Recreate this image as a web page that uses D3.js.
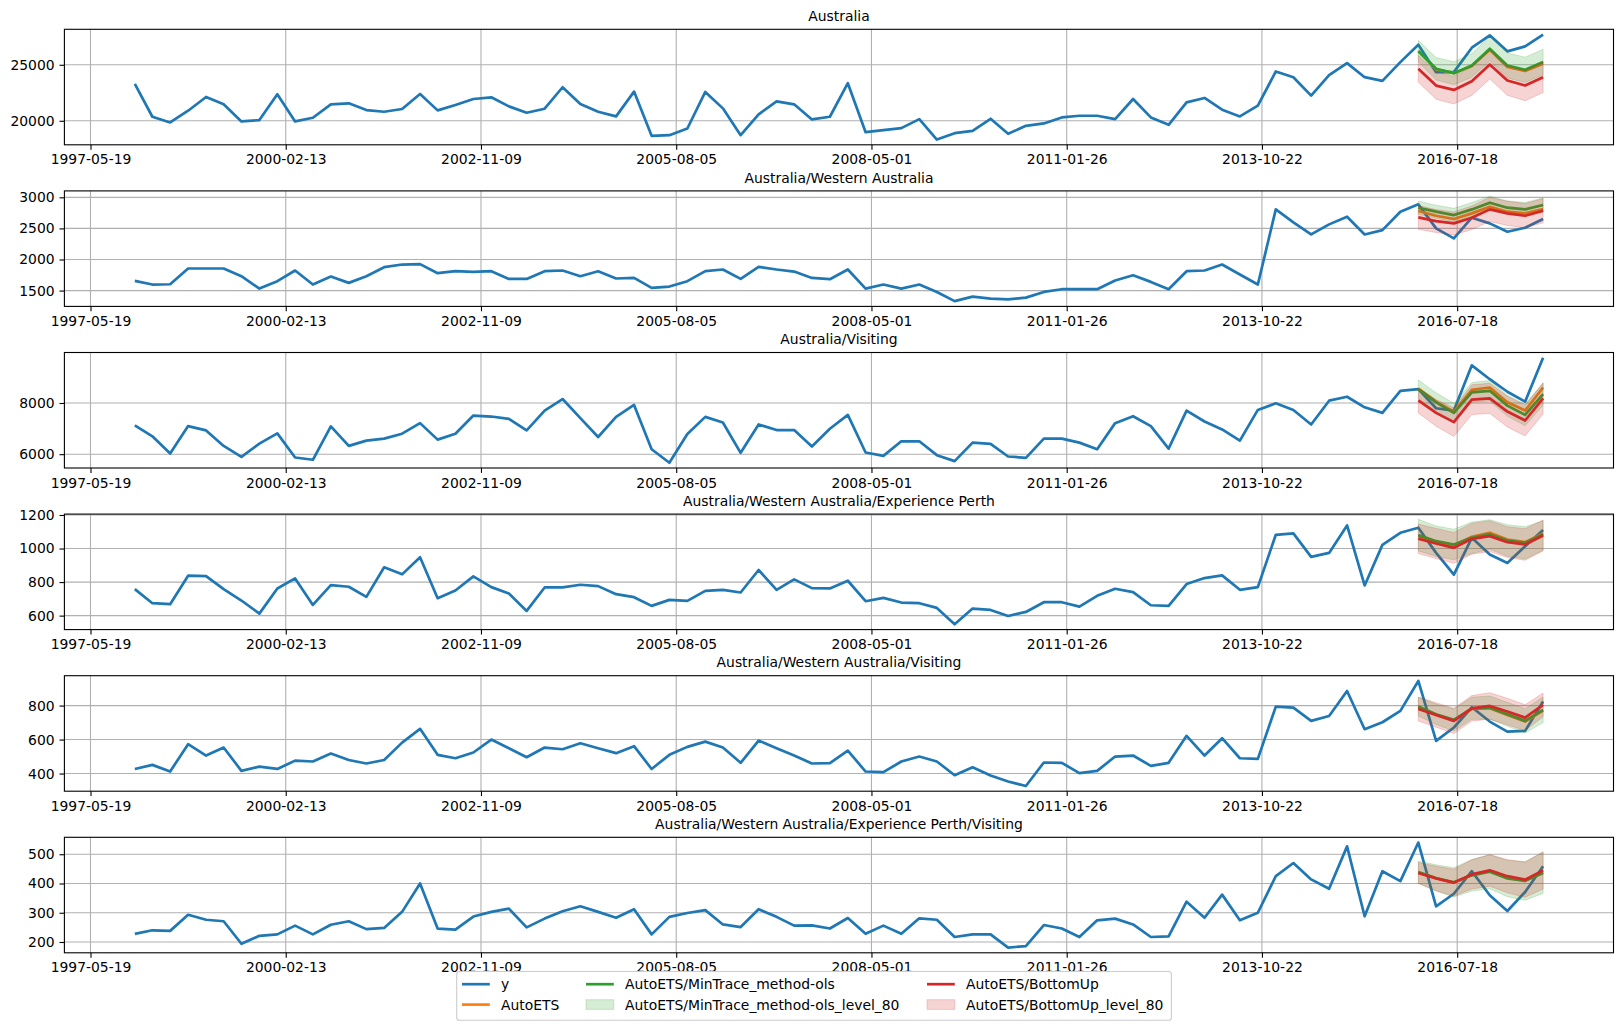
<!DOCTYPE html>
<html>
<head>
<meta charset="utf-8">
<script src="https://cdn.jsdelivr.net/npm/d3@7/dist/d3.min.js"></script>
<style>
  html, body { margin: 0; padding: 0; background: #fff; }
  svg { display: block; font-family: "DejaVu Sans", sans-serif; }
</style>
</head>
<body>
<svg id="chart" width="1624" height="1028"></svg>
<script>
// ---------------- DATA ----------------
const titles = [
  "Australia",
  "Australia/Western Australia",
  "Australia/Visiting",
  "Australia/Western Australia/Experience Perth",
  "Australia/Western Australia/Visiting",
  "Australia/Western Australia/Experience Perth/Visiting"
];
const startDate = "1998-01-01";      // first quarter
const nQuarters = 80;                // 1998Q1 .. 2017Q4
const forecastStart = 72;            // index of first forecast quarter (2016Q1)
const xTickLabels = ["1997-05-19","2000-02-13","2002-11-09","2005-08-05","2008-05-01","2011-01-26","2013-10-22","2016-07-18"];
const yTickValues = [
  [20000, 25000],
  [1500, 2000, 2500, 3000],
  [6000, 8000],
  [600, 800, 1000, 1200],
  [400, 600, 800],
  [200, 300, 400, 500]
];

// observed y per panel
const yAustralia = [23293,20359,19850,20898,22126,21467,19940,20060,22365,19940,20269,21467,21557,20958,20808,21048,22395,20928,21407,21946,22096,21287,20719,21078,22994,21497,20808,20389,22605,18653,18713,19311,22575,21108,18713,20569,21737,21467,20120,
  20359,23353,18982,19162,19341,20150,18323,18892,19102,20180,18832,19551,19760,20299,20449,20449,20150,21946,20299,19641,21647,22036,20988,20389,21347,24401,23892,22246,24072,25150,23892,23563,25240,26796,24341,24341,26527,27635,26198,26647,27700];
const yWA = [1656,1597,1602,1855,1855,1855,1731,1532,1651,1823,1597,1726,1624,1731,1876,1919,1925,1780,1812,1801,1812,1688,1688,1812,1823,1731,1812,1694,1704,1543,1565,1651,1812,1839,1688,1882,1839,1806,1704,
  1683,1839,1532,1597,1532,1597,1478,1330,1403,1371,1360,1387,1478,1522,1522,1522,1661,1747,1640,1522,1812,1823,1919,1758,1597,2806,2597,2403,2565,2688,2403,2473,2769,2887,2500,2339,2672,2581,2446,2511,2651];
const yVisiting = [7123,6697,6026,7097,6929,6323,5897,6413,6813,5871,5781,7084,6323,6529,6606,6800,7213,6568,6800,7510,7471,7381,6929,7703,8155,7406,6671,7458,7923,6194,5665,6787,7458,7239,6052,7161,6942,6942,6297,
  6994,7535,6065,5935,6503,6503,5961,5729,6452,6400,5910,5858,6606,6606,6452,6194,7213,7484,7097,6219,7703,7277,6968,6529,7729,7987,7729,7161,8090,8245,7832,7613,8477,8542,7794,7703,9471,8929,8439,8052,9768];
const yPerth = [758,674,668,838,836,758,690,612,762,822,664,782,772,712,888,846,948,704,750,834,770,732,628,768,768,784,776,728,710,658,694,688,748,754,738,872,754,816,764,
  762,808,686,706,678,674,646,548,642,634,598,622,680,680,654,718,760,740,662,658,788,824,840,754,770,1082,1090,950,974,1138,780,1022,1094,1124,974,844,1064,964,914,1014,1110];
const yWAVisiting = [427,451,412,573,506,553,416,441,427,476,471,518,480,459,480,582,663,510,490,524,600,549,496,553,543,578,549,520,561,427,510,557,588,553,463,594,549,506,459,
  461,535,412,408,471,500,471,390,437,388,353,327,465,463,402,416,500,506,445,463,622,506,608,490,486,794,788,710,739,886,661,702,769,945,592,671,790,706,647,651,824];
const yPerthVisiting = [228,240,238,293,276,271,194,221,226,256,226,259,271,244,248,303,400,246,242,287,303,314,250,280,305,322,303,283,312,226,286,299,309,260,251,312,286,256,257,
  246,282,228,256,228,281,276,217,226,226,181,186,258,246,217,274,280,260,217,219,338,283,362,274,300,425,470,414,382,527,288,442,408,540,322,365,442,360,306,371,459];

// forecasts (8 quarters, 2016Q1..2017Q4) per panel
const autoETS = [
  [26200,24600,24250,24900,26350,24800,24450,25100],
  [2780,2704,2651,2742,2849,2769,2742,2812],
  [8568,8052,7665,8516,8606,8026,7703,8606],
  [1074,1042,1018,1070,1094,1054,1038,1090],
  [788,745,712,780,784,744,706,770],
  [437,418,403,429,442,420,411,439]
];
const minTrace = [
  [26228,24641,24251,24940,26437,24940,24551,25240],
  [2833,2769,2715,2806,2914,2833,2806,2876],
  [8542,8026,7613,8413,8477,7897,7535,8348],
  [1080,1044,1024,1064,1084,1048,1034,1084],
  [794,749,716,784,788,749,710,775],
  [439,419,404,428,440,417,409,436]
];
const minTraceLo80 = [
  [25268,23641,23221,23880,25347,23830,23421,24090],
  [2728,2664,2607,2696,2809,2723,2694,2761],
  [8182,7656,7233,8023,8077,7487,7115,7918],
  [986,953,933,970,996,954,938,990],
  [739,689,651,719,720,679,638,700],
  [401,374,354,374,382,355,343,366]
];
const minTraceHi80 = [
  [27188,25641,25281,26000,27527,26050,25681,26390],
  [2938,2874,2823,2916,3019,2943,2918,2991],
  [8902,8396,7993,8803,8877,8307,7955,8778],
  [1174,1135,1115,1158,1172,1142,1130,1166],
  [849,809,781,849,856,819,782,850],
  [477,464,454,482,498,479,475,506]
];
const bottomUp = [
  [24641,23144,22754,23533,25030,23593,23144,23892],
  [2677,2618,2581,2672,2806,2742,2704,2785],
  [8103,7613,7252,8129,8181,7665,7316,8181],
  [1058,1030,1004,1058,1074,1038,1024,1078],
  [780,745,710,784,798,765,729,804],
  [436,417,403,431,445,425,413,445]
];
const bottomUpLo80 = [
  [23441,21924,21504,22263,23730,22273,21794,22522],
  [2487,2433,2396,2482,2611,2547,2509,2590],
  [7613,7093,6692,7549,7591,7065,6711,7571],
  [970,940,912,966,982,946,930,986],
  [710,673,635,709,720,687,653,734],
  [400,375,357,381,391,368,353,381]
];
const bottomUpHi80 = [
  [25841,24364,24004,24803,26330,24913,24494,25262],
  [2867,2803,2766,2862,3001,2937,2899,2980],
  [8593,8133,7812,8709,8771,8265,7921,8791],
  [1146,1120,1096,1150,1166,1130,1118,1170],
  [850,817,785,859,876,843,805,874],
  [472,459,449,481,499,482,473,509]
];
const observed = [yAustralia, yWA, yVisiting, yPerth, yWAVisiting, yPerthVisiting];

const legendItems = [
  {label: "y", kind: "line", color: "#1f77b4"},
  {label: "AutoETS", kind: "line", color: "#ff7f0e"},
  {label: "AutoETS/MinTrace_method-ols", kind: "line", color: "#2ca02c"},
  {label: "AutoETS/MinTrace_method-ols_level_80", kind: "patch", color: "#2ca02c"},
  {label: "AutoETS/BottomUp", kind: "line", color: "#d62728"},
  {label: "AutoETS/BottomUp_level_80", kind: "patch", color: "#d62728"}
];

// ---------------- LAYOUT ----------------
const C = {blue: "#1f77b4", orange: "#ff7f0e", green: "#2ca02c", red: "#d62728"};
const FS = 13.9;
const axLeft = 64.4, axRight = 1613.5;
const axTop0 = 29.3, axStep = 161.6, axH = 115.5;
const lw = 2.7;

const svg = d3.select("#chart");
svg.append("rect").attr("width", 1624).attr("height", 1028).attr("fill", "#fff");

const t0 = new Date(startDate + "T00:00:00Z");
const dates = d3.range(nQuarters).map(i => d3.utcMonth.offset(t0, 3 * i));
const fDates = dates.slice(forecastStart);
const span = dates[dates.length - 1] - dates[0];
const x = d3.scaleUtc()
  .domain([new Date(+dates[0] - 0.05 * span), new Date(+dates[dates.length - 1] + 0.05 * span)])
  .range([axLeft, axRight]);
const xTicks = xTickLabels.map(s => new Date(s + "T00:00:00Z"));

observed.forEach((yv, i) => {
  const top = axTop0 + i * axStep, bottom = top + axH;
  const all = [...yv, ...autoETS[i], ...minTrace[i], ...minTraceLo80[i], ...minTraceHi80[i],
               ...bottomUp[i], ...bottomUpLo80[i], ...bottomUpHi80[i]];
  const [mn, mx] = d3.extent(all);
  const pad = 0.05 * (mx - mn);
  const y = d3.scaleLinear().domain([mn - pad, mx + pad]).range([bottom, top]);

  const g = svg.append("g");
  const clipId = "clip" + i;
  g.append("clipPath").attr("id", clipId).append("rect")
    .attr("x", axLeft).attr("y", top).attr("width", axRight - axLeft).attr("height", axH);

  // grid
  const grid = g.append("g");
  grid.selectAll("line.gx").data(xTicks).join("line")
    .attr("x1", d => x(d)).attr("x2", d => x(d)).attr("y1", top).attr("y2", bottom)
    .attr("stroke", "#b0b0b0").attr("stroke-width", 1.1);
  grid.selectAll("line.gy").data(yTickValues[i]).join("line")
    .attr("x1", axLeft).attr("x2", axRight).attr("y1", d => y(d)).attr("y2", d => y(d))
    .attr("stroke", "#b0b0b0").attr("stroke-width", 1.1);

  const plot = g.append("g").attr("clip-path", `url(#${clipId})`);
  const line = d3.line().x(d => x(d[0])).y(d => y(d[1]));
  const area = d3.area().x(d => x(d[0])).y0(d => y(d[1])).y1(d => y(d[2]));

  plot.append("path").datum(dates.map((d, k) => [d, yv[k]]))
    .attr("d", line).attr("fill", "none").attr("stroke", C.blue).attr("stroke-width", lw)
    .attr("stroke-linejoin", "round");
  plot.append("path").datum(fDates.map((d, k) => [d, autoETS[i][k]]))
    .attr("d", line).attr("fill", "none").attr("stroke", C.orange).attr("stroke-width", lw)
    .attr("stroke-linejoin", "round");
  plot.append("path").datum(fDates.map((d, k) => [d, minTrace[i][k]]))
    .attr("d", line).attr("fill", "none").attr("stroke", C.green).attr("stroke-width", lw)
    .attr("stroke-linejoin", "round");
  plot.append("path").datum(fDates.map((d, k) => [d, minTraceLo80[i][k], minTraceHi80[i][k]]))
    .attr("d", area).attr("fill", C.green).attr("fill-opacity", 0.2)
    .attr("stroke", C.green).attr("stroke-opacity", 0.2).attr("stroke-width", 1);
  plot.append("path").datum(fDates.map((d, k) => [d, bottomUp[i][k]]))
    .attr("d", line).attr("fill", "none").attr("stroke", C.red).attr("stroke-width", lw)
    .attr("stroke-linejoin", "round");
  plot.append("path").datum(fDates.map((d, k) => [d, bottomUpLo80[i][k], bottomUpHi80[i][k]]))
    .attr("d", area).attr("fill", C.red).attr("fill-opacity", 0.2)
    .attr("stroke", C.red).attr("stroke-opacity", 0.2).attr("stroke-width", 1);

  // axes
  const xAxis = d3.axisBottom(x).tickValues(xTicks).tickFormat((d, k) => xTickLabels[k])
    .tickSizeInner(4.9).tickSizeOuter(0).tickPadding(4.9);
  const gx = g.append("g").attr("transform", `translate(0,${bottom})`).call(xAxis);
  const yAxis = d3.axisLeft(y).tickValues(yTickValues[i]).tickFormat(d3.format("d"))
    .tickSizeInner(4.9).tickSizeOuter(0).tickPadding(4.9);
  const gy = g.append("g").attr("transform", `translate(${axLeft},0)`).call(yAxis);
  [gx, gy].forEach(a => {
    a.select(".domain").remove();
    a.selectAll("line").attr("stroke", "#000").attr("stroke-width", 1.1);
    a.selectAll("text").attr("font-size", FS).attr("font-family", "DejaVu Sans").attr("fill", "#000");
  });

  // frame
  g.append("rect").attr("x", axLeft).attr("y", top).attr("width", axRight - axLeft).attr("height", axH)
    .attr("fill", "none").attr("stroke", "#000").attr("stroke-width", 1.1);

  // title
  g.append("text").attr("x", (axLeft + axRight) / 2).attr("y", top - 8.3)
    .attr("text-anchor", "middle").attr("font-size", FS).attr("fill", "#000").text(titles[i]);
});

// ---------------- LEGEND ----------------
const leg = svg.append("g");
leg.append("rect").attr("x", 456.7).attr("y", 971.5).attr("width", 1171.4 - 456.7).attr("height", 1020.2 - 971.5)
  .attr("rx", 2.8).attr("fill", "#fff").attr("fill-opacity", 0.8)
  .attr("stroke", "#cccccc").attr("stroke-width", 1.1);
const colX = [462, 586, 927];
const rowY = [984.2, 1004.6];
legendItems.forEach((it, k) => {
  const col = Math.floor(k / 2), row = k % 2;
  const hx = colX[col], cy = rowY[row];
  if (it.kind === "line") {
    leg.append("line").attr("x1", hx).attr("x2", hx + 27.8).attr("y1", cy).attr("y2", cy)
      .attr("stroke", it.color).attr("stroke-width", lw);
  } else {
    leg.append("rect").attr("x", hx).attr("y", cy - 4.9).attr("width", 27.8).attr("height", 9.7)
      .attr("fill", it.color).attr("fill-opacity", 0.2)
      .attr("stroke", it.color).attr("stroke-opacity", 0.2).attr("stroke-width", 1);
  }
  leg.append("text").attr("x", hx + 27.8 + 11.1).attr("y", cy).attr("dy", "0.36em")
    .attr("font-size", FS).attr("fill", "#000").text(it.label);
});
</script>
</body>
</html>
